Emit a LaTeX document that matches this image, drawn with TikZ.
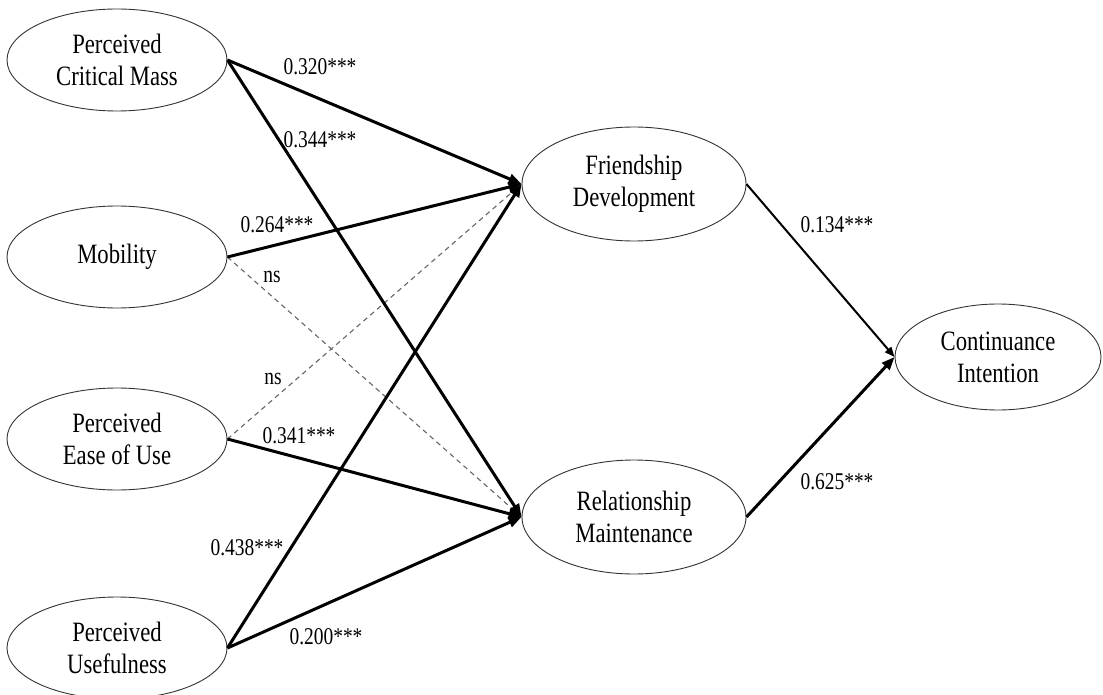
\documentclass[tikz,border=0pt]{standalone}
\usepackage{fontspec}
\setmainfont{Liberation Serif}[FakeStretch=0.81]
\usetikzlibrary{shapes.geometric,arrows.meta}
\begin{document}
\begin{tikzpicture}[x=1pt,y=-1pt,
  construct/.style={ellipse,draw=black!80,line width=0.9pt,inner sep=0pt,align=center,
    font=\fontsize{28}{32}\selectfont},
  leftc/.style={construct,minimum width=220pt,minimum height=102pt},
  midc/.style={construct,minimum width=224pt,minimum height=114pt},
  strong/.style={line width=3pt,-{Triangle[length=13pt,width=10pt]}},
  medium/.style={line width=2pt,-{Triangle[length=10pt,width=8pt]}},
  nsline/.style={line width=1.1pt,dash pattern=on 5pt off 4pt,draw=black!60,-{Triangle[length=10pt,width=8pt]}},
  lbl/.style={font=\fontsize{24}{28}\selectfont,inner sep=0pt}
]
\useasboundingbox (0,0) rectangle (1103,695);
\fill[white] (0,0) rectangle (1103,695);

\node[leftc] (pcm)  at (117,60)  {Perceived\\Critical Mass};
\node[leftc] (mob)  at (117,257) {Mobility};
\node[leftc] (peou) at (117,439) {Perceived\\Ease of Use};
\node[leftc] (pu)   at (117,648) {Perceived\\Usefulness};
\node[midc] (fd) at (634,184) {Friendship\\Development};
\node[midc] (rm) at (634,517) {Relationship\\Maintenance};
\node[construct,minimum width=206pt,minimum height=106pt] (ci) at (998,357) {Continuance\\Intention};

\draw[nsline] (mob.east) -- (rm.west);
\draw[nsline] (peou.east) -- (fd.west);
\draw[strong] (pcm.east) -- (fd.west);
\draw[strong] (pcm.east) -- (rm.west);
\draw[strong] (mob.east) -- (fd.west);
\draw[strong] (peou.east) -- (rm.west);
\draw[strong] (pu.east) -- (fd.west);
\draw[strong] (pu.east) -- (rm.west);
\draw[medium] (fd.east) -- (ci.west);
\draw[strong] (rm.east) -- (ci.west);

\node[lbl] (l320) at (320,67)  {0.320***};
\node[lbl] (l344) at (320,140) {0.344***};
\node[lbl] (l264) at (277,225) {0.264***};
\node[lbl] (ns1)  at (272,277) {ns};
\node[lbl] (ns2)  at (273,379) {ns};
\node[lbl] (l341) at (299,436) {0.341***};
\node[lbl] (l438) at (247,548) {0.438***};
\node[lbl] (l200) at (326,637) {0.200***};
\node[lbl] (l134) at (837,225) {0.134***};
\node[lbl] (l625) at (837,482) {0.625***};
\end{tikzpicture}
\end{document}
